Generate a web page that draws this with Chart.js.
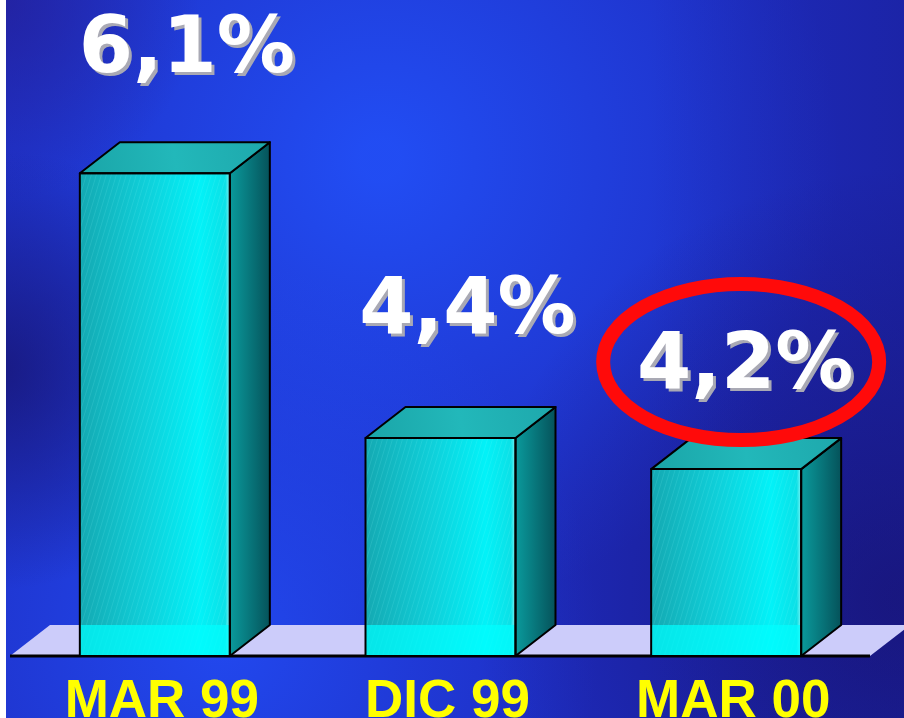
<!DOCTYPE html>
<html>
<head>
<meta charset="utf-8">
<script src="https://cdn.jsdelivr.net/npm/chart.js@4/dist/chart.umd.min.js"></script>
<style>
  html, body { margin: 0; padding: 0; background: #1c28b8; }
  canvas { display: block; }
</style>
</head>
<body>
<canvas id="myChart" width="904" height="718"></canvas>
<script>
// values
const categories = ['MAR 99', 'DIC 99', 'MAR 00'];
const rates = [6.1, 4.4, 4.2];
const rateLabels = ['6,1%', '4,4%', '4,2%'];
const highlighted = 2; // the one with the red ring

// 3d look
const DX = 40, DY = -31;
// how far each value label sits above its box, and nudge sideways
const labelLift = [70, 74, 50];
const labelShift = [12, 7, -1];

const bgPlugin = {
  id: 'bg',
  beforeDraw(chart) {
    const ctx = chart.ctx, w = chart.width, h = chart.height;
    ctx.save();
    ctx.fillStyle = '#1e2cc0';
    ctx.fillRect(0, 0, w, h);
    // bright spot top middle
    let g = ctx.createRadialGradient(380, 160, 20, 380, 160, 460);
    g.addColorStop(0, 'rgba(34,80,248,0.9)');
    g.addColorStop(1, 'rgba(34,80,248,0)');
    ctx.fillStyle = g; ctx.fillRect(0, 0, w, h);
    // bright bottom left
    g = ctx.createRadialGradient(220, 640, 10, 220, 640, 380);
    g.addColorStop(0, 'rgba(34,76,245,0.85)');
    g.addColorStop(1, 'rgba(34,76,245,0)');
    ctx.fillStyle = g; ctx.fillRect(0, 0, w, h);
    // darker purple top left
    g = ctx.createRadialGradient(0, 0, 10, 0, 0, 200);
    g.addColorStop(0, 'rgba(36,30,150,0.7)');
    g.addColorStop(1, 'rgba(36,30,150,0)');
    ctx.fillStyle = g; ctx.fillRect(0, 0, w, h);
    // dark left middle
    g = ctx.createRadialGradient(0, 370, 10, 0, 370, 220);
    g.addColorStop(0, 'rgba(24,24,125,0.85)');
    g.addColorStop(1, 'rgba(24,24,125,0)');
    ctx.fillStyle = g; ctx.fillRect(0, 0, w, h);
    // dark lower right
    g = ctx.createRadialGradient(w, h - 120, 10, w, h - 120, 430);
    g.addColorStop(0, 'rgba(24,20,120,0.9)');
    g.addColorStop(1, 'rgba(24,20,120,0)');
    ctx.fillStyle = g; ctx.fillRect(0, 0, w, h);
    g = ctx.createLinearGradient(650, 0, w, 0);
    g.addColorStop(0, 'rgba(24,24,130,0)');
    g.addColorStop(1, 'rgba(24,24,130,0.4)');
    ctx.fillStyle = g; ctx.fillRect(0, 0, w, h);
    // white strip on the left
    ctx.fillStyle = '#ffffff';
    ctx.fillRect(0, 0, 6, h);
    ctx.restore();
  }
};

const floorPlugin = {
  id: 'floor',
  beforeDatasetsDraw(chart) {
    const ctx = chart.ctx, a = chart.chartArea;
    const L = a.left - 2, R = a.right + 1, B = a.bottom;
    ctx.save();
    ctx.fillStyle = '#ccccfa';
    ctx.beginPath();
    ctx.moveTo(L, B);
    ctx.lineTo(L + DX, B + DY);
    ctx.lineTo(R + DX, B + DY);
    ctx.lineTo(R, B);
    ctx.closePath();
    ctx.fill();
    ctx.restore();
  },
  afterDatasetsDraw(chart) {
    const ctx = chart.ctx, a = chart.chartArea;
    ctx.save();
    ctx.strokeStyle = '#000';
    ctx.lineWidth = 3;
    ctx.beginPath();
    ctx.moveTo(a.left - 2, a.bottom);
    ctx.lineTo(a.right + 1, a.bottom);
    ctx.stroke();
    ctx.restore();
  }
};

const boxPlugin = {
  id: 'boxes',
  afterDatasetsDraw(chart) {
    const ctx = chart.ctx;
    const meta = chart.getDatasetMeta(0);
    ctx.save();
    ctx.lineJoin = 'round';
    meta.data.forEach((bar) => {
      const l = bar.x - bar.width / 2, r = bar.x + bar.width / 2;
      const t = bar.y;
      const b = Math.min(bar.base, chart.chartArea.bottom); // bars start at the floor, not at 0

      // front
      let g = ctx.createLinearGradient(l, 0, r, 0);
      g.addColorStop(0, '#14a9b2');
      g.addColorStop(0.45, '#0fd0da');
      g.addColorStop(0.8, '#02f2f8');
      g.addColorStop(0.97, '#0ce0e6');
      g.addColorStop(1, '#7ff5f5');
      ctx.fillStyle = g;
      ctx.fillRect(l, t, r - l, b - t);
      // streaks
      ctx.save();
      ctx.beginPath();
      ctx.rect(l, t, r - l, b - t);
      ctx.clip();
      ctx.strokeStyle = 'rgba(150,255,255,0.13)';
      ctx.lineWidth = 1;
      for (let s = -(b - t); s < r - l; s += 5) {
        ctx.beginPath();
        ctx.moveTo(l + s, b);
        ctx.lineTo(l + s + (b - t) * 0.3, t);
        ctx.stroke();
      }
      ctx.restore();
      // brighter cyan part in front of the floor
      const ft = Math.max(t, b + DY);
      ctx.fillStyle = 'rgba(0,255,255,0.7)';
      ctx.fillRect(l, ft, r - l, b - ft);

      // side
      g = ctx.createLinearGradient(r, 0, r + DX, 0);
      g.addColorStop(0, '#0a9a9c');
      g.addColorStop(1, '#05525a');
      ctx.fillStyle = g;
      ctx.beginPath();
      ctx.moveTo(r, t);
      ctx.lineTo(r + DX, t + DY);
      ctx.lineTo(r + DX, b + DY);
      ctx.lineTo(r, b);
      ctx.closePath();
      ctx.fill();
      ctx.strokeStyle = '#000';
      ctx.lineWidth = 2;
      ctx.stroke();

      // top
      g = ctx.createLinearGradient(l, t, r + DX, t + DY);
      g.addColorStop(0, '#1aa5a8');
      g.addColorStop(0.5, '#22b8ba');
      g.addColorStop(1, '#1ea8ac');
      ctx.fillStyle = g;
      ctx.beginPath();
      ctx.moveTo(l, t);
      ctx.lineTo(l + DX, t + DY);
      ctx.lineTo(r + DX, t + DY);
      ctx.lineTo(r, t);
      ctx.closePath();
      ctx.fill();
      ctx.stroke();

      // front outline
      ctx.strokeRect(l, t, r - l, b - t);
    });
    ctx.restore();
  }
};

const labelPlugin = {
  id: 'labels',
  afterDraw(chart) {
    const ctx = chart.ctx;
    const meta = chart.getDatasetMeta(0);
    ctx.save();
    meta.data.forEach((bar, i) => {
      const cx = bar.x + DX / 2 + labelShift[i];
      const base = bar.y + DY - labelLift[i];

      if (i === highlighted) {
        ctx.strokeStyle = '#ff0a0a';
        ctx.lineWidth = 14;
        ctx.beginPath();
        ctx.ellipse(cx - 4, base - 26, 138, 78, 0, 0, Math.PI * 2);
        ctx.stroke();
      }

      ctx.font = 'bold 78px "DejaVu Sans"';
      ctx.textAlign = 'center';
      ctx.textBaseline = 'alphabetic';
      ctx.fillStyle = '#a9a9b4';
      ctx.fillText(rateLabels[i], cx + 3, base + 3);
      ctx.fillStyle = '#ffffff';
      ctx.fillText(rateLabels[i], cx, base);

      // category under the floor
      ctx.font = 'bold 53px "Liberation Sans"';
      ctx.fillStyle = '#ffff00';
      ctx.fillText(categories[i], bar.x + 7, chart.chartArea.bottom + 61);
    });
    ctx.restore();
  }
};

new Chart(document.getElementById('myChart'), {
  type: 'bar',
  data: {
    labels: categories,
    datasets: [{
      data: rates,
      backgroundColor: 'rgba(0,0,0,0)',
      borderWidth: 0,
      barThickness: 150
    }]
  },
  options: {
    responsive: false,
    devicePixelRatio: 1,
    animation: false,
    layout: { padding: { left: 12, right: 35, top: 33, bottom: 62 } },
    scales: {
      x: { display: false },
      y: { display: false, min: 3, max: 7 }
    },
    plugins: {
      legend: { display: false },
      tooltip: { enabled: false }
    }
  },
  plugins: [bgPlugin, floorPlugin, boxPlugin, labelPlugin]
});
</script>
</body>
</html>
